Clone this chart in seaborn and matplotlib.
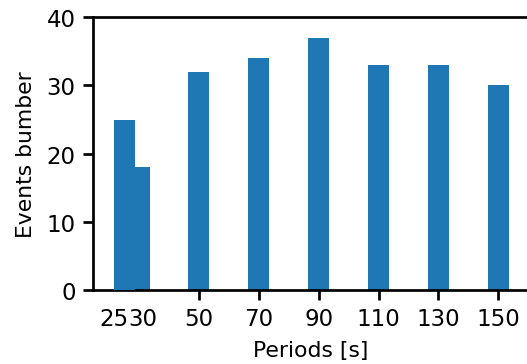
import matplotlib
matplotlib.use("Agg")
import matplotlib.pyplot as plt
import seaborn as sns
import pandas as pd

periods = [25, 30, 50, 70, 90, 110, 130, 150]
counts = [25, 18, 32, 34, 37, 33, 33, 30]
major_ticks = [50, 70, 90, 110, 130, 150]
extra_tick_pos = [21.6, 31.4]
extra_tick_labels = ["25", "30"]

df = pd.DataFrame({"period": periods, "count": counts})

plt.rcParams["font.family"] = ["DejaVu Sans"]
plt.rcParams["font.size"] = 10.5
plt.rcParams["axes.linewidth"] = 1.3

fig = plt.figure(figsize=(527 / 150, 365 / 150), dpi=150)
ax = fig.add_axes([92.7 / 527, 1 - 291 / 365, 1.005 - 92.7 / 527, (291 - 18.3) / 365])

sns.barplot(data=df, x="period", y="count", native_scale=True, width=1.4,
            color="#1f77b4", saturation=1, linewidth=0, ax=ax)

# the 25 bar sits on top of the 30 bar
for p in ax.patches:
    cx = p.get_x() + p.get_width() / 2
    p.set_zorder(3 if abs(cx - 25) < 0.5 else 2)

ax.set_xlim(14.5, 160.5)
ax.set_ylim(0, 40)
ax.set_yticks([0, 10, 20, 30, 40])
ax.set_xticks(major_ticks)
ax.set_xticks(extra_tick_pos, labels=extra_tick_labels, minor=True)
ax.tick_params(axis="both", which="major", length=4.6, width=1.3, pad=3.6, labelsize=11)
ax.tick_params(axis="x", which="minor", length=4.6, width=1.3, color="none", pad=3.6, labelsize=11)
ax.set_xlabel("Periods [s]", fontsize=10.5, labelpad=5)
ax.set_ylabel("Events bumber", fontsize=10.5, labelpad=5)

fig.savefig("out.png", dpi=150)
